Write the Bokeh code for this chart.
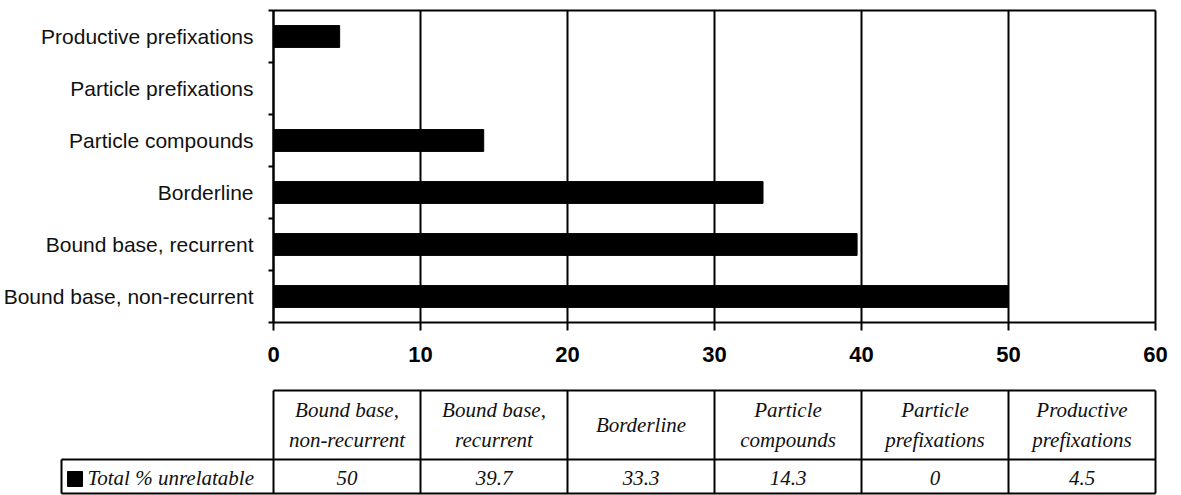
from bokeh.plotting import figure
from bokeh.models import Range1d, FixedTicker, LinearAxis
from bokeh.embed import file_html
from bokeh.resources import INLINE
from bokeh.core.properties import value

# ---- data ----
categories = ["Bound base, non-recurrent", "Bound base, recurrent", "Borderline",
              "Particle compounds", "Particle prefixations", "Productive prefixations"]
values = [50, 39.7, 33.3, 14.3, 0, 4.5]
value_labels = ["50", "39.7", "33.3", "14.3", "0", "4.5"]
header_labels = ["Bound base,\nnon-recurrent", "Bound base,\nrecurrent", "Borderline",
                 "Particle\ncompounds", "Particle\nprefixations", "Productive\nprefixations"]
series_name = "Total % unrelatable"
x_ticks = [0, 10, 20, 30, 40, 50, 60]

# ---- layout (page pixels) ----
W, H = 1181, 495
PLOT_L, PLOT_R, PLOT_T, PLOT_B = 273, 1155, 10, 322
n = len(categories)
ppx = (PLOT_R - PLOT_L) / (x_ticks[-1] - x_ticks[0])
ppy = (PLOT_B - PLOT_T) / n

x_range = Range1d(x_ticks[0] - PLOT_L / ppx, x_ticks[-1] + (W - PLOT_R) / ppx)
y_range = Range1d(-(H - PLOT_B) / ppy, PLOT_B / ppy)

p = figure(width=W, height=H, x_range=x_range, y_range=y_range,
           output_backend="svg", toolbar_location=None,
           x_axis_type=None, y_axis_type=None, min_border=0)
p.grid.grid_line_color = None
p.outline_line_color = None
p.extra_y_ranges = {"tbl": Range1d(H, 0)}   # table area in page-pixel rows

pos = [i + 0.5 for i in range(n)]

# grid lines + top border
gx0 = x_ticks + [x_ticks[0]]
gx1 = x_ticks + [x_ticks[-1]]
gy0 = [0] * len(x_ticks) + [n]
gy1 = [n] * len(x_ticks) + [n]
p.segment(x0=gx0, y0=gy0, x1=gx1, y1=gy1, line_color="black", line_width=2)

p.hbar(y=pos, left=0, right=values, height=0.42, fill_color="black", line_color="black")

# axes pinned to the plot-area edges
xa = LinearAxis(fixed_location=0, bounds=(x_ticks[0], x_ticks[-1]),
                ticker=FixedTicker(ticks=x_ticks))
xa.major_tick_out = 8
xa.major_tick_in = 0
xa.minor_tick_out = 0
xa.minor_tick_in = 0
xa.axis_line_width = 2
xa.major_tick_line_width = 2
xa.major_label_text_font = "Liberation Sans"
xa.major_label_text_font_style = "bold"
xa.major_label_text_font_size = "22px"
xa.major_label_text_color = "black"
xa.major_label_standoff = 16
p.add_layout(xa, "below")

ya = LinearAxis(fixed_location=x_ticks[0], bounds=(0, n),
                ticker=FixedTicker(ticks=pos, minor_ticks=list(range(n + 1))))
ya.major_tick_out = 0
ya.major_tick_in = 0
ya.minor_tick_out = 5
ya.minor_tick_in = 0
ya.minor_tick_line_width = 2
ya.axis_line_width = 2
ya.major_label_overrides = {pos[i]: categories[i] for i in range(n)}
ya.major_label_text_font = "Liberation Sans"
ya.major_label_text_font_size = "21px"
ya.major_label_text_color = "#111111"
ya.major_label_standoff = 15
p.add_layout(ya, "left")

# ---- data table ----
def xd(px):
    return x_ticks[0] + (px - PLOT_L) / ppx

y_top, y_sep, y_bot = 390, 459, 493
x_key = xd(61)
tx0 = [x_ticks[0], x_key, x_key] + x_ticks + [x_key]
tx1 = [x_ticks[-1], x_ticks[-1], x_ticks[-1]] + x_ticks + [x_key]
ty0 = [y_top, y_sep, y_bot] + [y_top] * len(x_ticks) + [y_sep]
ty1 = [y_top, y_sep, y_bot] + [y_bot] * len(x_ticks) + [y_bot]
p.segment(x0=tx0, y0=ty0, x1=tx1, y1=ty1, line_color="black", line_width=2,
          y_range_name="tbl")

centers = [(x_ticks[i] + x_ticks[i + 1]) / 2 for i in range(n)]
hx, hy, ht = [], [], []
for c, lab in zip(centers, header_labels):
    lines = lab.split("\n")
    ys = [424] if len(lines) == 1 else [409, 439]
    for ln, yy in zip(lines, ys):
        hx.append(c); hy.append(yy); ht.append(ln)
tstyle = dict(text_font=value("Liberation Serif"), text_font_style="italic",
              text_font_size="21px", text_color="#111111", text_baseline="middle",
              y_range_name="tbl")
p.text(x=hx, y=hy, text=ht, text_align="center", **tstyle)
p.text(x=centers, y=[477] * n, text=value_labels, text_align="center", **tstyle)

# legend key
p.quad(left=[xd(67)], right=[xd(82)], top=[471], bottom=[486], fill_color="black",
       line_color="black", y_range_name="tbl")
p.text(x=[xd(87)], y=[477], text=[series_name], text_align="left", **tstyle)

open("out.html", "w").write(file_html(p, INLINE))
